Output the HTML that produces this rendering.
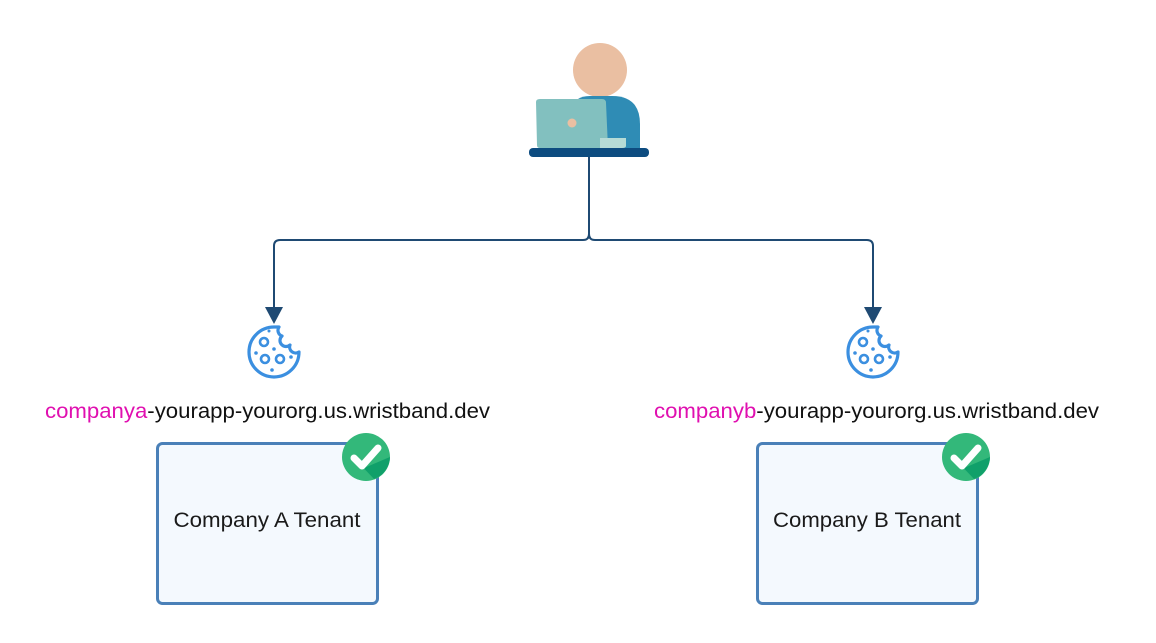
<!DOCTYPE html>
<html><head><meta charset="utf-8"><style>
html,body{margin:0;padding:0;background:#fff;}
svg{display:block;}
text{font-family:"Liberation Sans",sans-serif;}
</style></head><body>
<svg width="1156" height="643" viewBox="0 0 1156 643" xmlns="http://www.w3.org/2000/svg">
<defs>
<g id="cookie">
  <path d="M0,-25 A25,25 0 1 0 25,0 A6,6 0 0 1 16,-7 A6,6 0 0 1 8,-16 A6,6 0 0 1 5,-25 Z" fill="none" stroke="#3b8fe0" stroke-width="3.2" stroke-linejoin="round"/>
  <circle cx="-10" cy="-10" r="4" fill="none" stroke="#3b8fe0" stroke-width="2.6"/>
  <circle cx="-9" cy="7" r="4" fill="none" stroke="#3b8fe0" stroke-width="2.6"/>
  <circle cx="6" cy="7" r="4" fill="none" stroke="#3b8fe0" stroke-width="2.6"/>
  <circle cx="0" cy="-3" r="1.8" fill="#3b8fe0"/>
  <circle cx="-18" cy="1" r="1.8" fill="#3b8fe0"/>
  <circle cx="-2" cy="18" r="1.8" fill="#3b8fe0"/>
  <circle cx="17" cy="5" r="1.8" fill="#3b8fe0"/>
  <circle cx="-5" cy="-21" r="1.5" fill="#3b8fe0"/>
</g>
<g id="check">
  <circle cx="0" cy="0" r="24" fill="#33b87a"/>
  <path d="M-10,3 L-2,11 L24,0 A24,24 0 0 1 8,22 Z" fill="#10a06a"/>
  <path d="M-12,1 L-4,9 L12,-9" fill="none" stroke="#fff" stroke-width="7" stroke-linecap="round" stroke-linejoin="round"/>
</g>
</defs>

<circle cx="600" cy="70" r="27" fill="#eabfa2"/>
<path d="M574,148 L574,108 Q574,96 590,96 L612,96 Q640,96 640,124 L640,148 Z" fill="#2f8cb5"/>
<path d="M536,102 Q536,99 540,99 L602,99 Q606,99 606,103 L608,148 L540,148 Q537,148 537,145 Z" fill="#82c0bf"/>
<path d="M600,138 L626,138 L626,146 Q626,148 622,148 L600,148 Z" fill="#b6dbd6"/>
<circle cx="572" cy="123" r="4.5" fill="#eabfa2"/>
<rect x="529" y="148" width="120" height="9" rx="4" fill="#0d4c80"/>

<path d="M589,157 L589,234 Q589,240 583,240 L280,240 Q274,240 274,246 L274,308" fill="none" stroke="#1f4a73" stroke-width="2"/>
<path d="M589,234 Q589,240 595,240 L867,240 Q873,240 873,246 L873,308" fill="none" stroke="#1f4a73" stroke-width="2"/>
<polygon points="265,307 283,307 274,324" fill="#1f4a73"/>
<polygon points="864,307 882,307 873,324" fill="#1f4a73"/>

<use href="#cookie" x="274" y="352"/>
<use href="#cookie" x="873" y="352"/>

<text x="45" y="418" font-size="21" textLength="445" lengthAdjust="spacingAndGlyphs"><tspan fill="#e010b0">companya</tspan><tspan fill="#111">-yourapp-yourorg.us.wristband.dev</tspan></text>
<text x="654" y="418" font-size="21" textLength="445" lengthAdjust="spacingAndGlyphs"><tspan fill="#e010b0">companyb</tspan><tspan fill="#111">-yourapp-yourorg.us.wristband.dev</tspan></text>

<rect x="157.5" y="443.5" width="220" height="160" rx="5" fill="#f4f9fe" stroke="#4a80b8" stroke-width="3"/>
<rect x="757.5" y="443.5" width="220" height="160" rx="5" fill="#f4f9fe" stroke="#4a80b8" stroke-width="3"/>
<text x="267" y="527" font-size="21" text-anchor="middle" fill="#1a1a1a" textLength="187" lengthAdjust="spacingAndGlyphs">Company A Tenant</text>
<text x="867" y="527" font-size="21" text-anchor="middle" fill="#1a1a1a" textLength="188" lengthAdjust="spacingAndGlyphs">Company B Tenant</text>

<use href="#check" x="366" y="457"/>
<use href="#check" x="966" y="457"/>
</svg>
</body></html>
